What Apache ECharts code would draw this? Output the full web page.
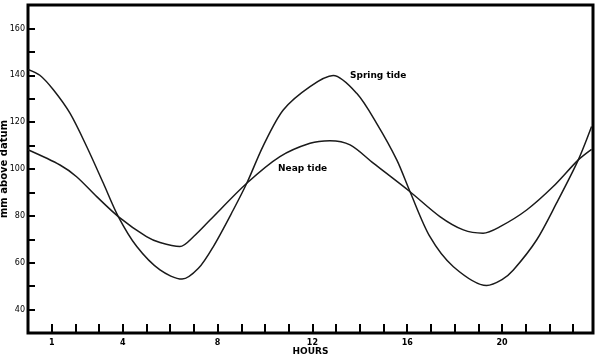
<!DOCTYPE html>
<html>
<head>
<meta charset="utf-8">
<script src="https://cdn.jsdelivr.net/npm/echarts@6/dist/echarts.min.js"></script>
<style>
html,body{margin:0;padding:0;background:#fff;}
#chart{width:600px;height:360px;}
</style>
</head>
<body>
<div id="chart"></div>
<script>
var springHours  = [0, 0.5, 1.07, 1.77, 2.48, 3.18, 3.81, 4.59, 5.57, 6.5, 7.19, 7.82, 8.66, 9.23, 9.93, 10.77, 11.9, 12.88, 13.87, 14.71, 15.56, 16.12, 16.96, 17.95, 19.35, 20.0, 20.48, 21.46, 22.3, 23.22, 23.78];
var springLevels = [142.5, 140, 133.8, 123.8, 109.5, 93.9, 79.7, 66.9, 56.9, 53, 57.6, 66.9, 82.5, 93.9, 110, 125.2, 135.2, 139.9, 132.3, 119.5, 103.9, 90.3, 71.1, 58.3, 50.3, 52.8, 56.9, 69.7, 85.4, 103.9, 118.1];
var neapHours  = [0, 1.35, 2.05, 2.9, 3.81, 5.0, 5.57, 6.41, 7.0, 7.68, 9.23, 10.63, 11.9, 12.74, 13.59, 14.57, 16.12, 17.38, 18.37, 19.2, 19.92, 21.04, 22.16, 23.22, 23.78];
var neapLevels = [108.2, 101.7, 96.7, 88.2, 79.7, 71.1, 68.6, 66.9, 71.3, 78.2, 93.9, 105.3, 111, 112.1, 110.3, 102.5, 90.3, 79.7, 74, 72.6, 75.4, 82.5, 92.5, 103.9, 108.4];
var xTickLabels = [1, 4, 8, 12, 16, 20];
var yTickLabels = [40, 60, 80, 100, 120, 140, 160];

function pairs(xs, ys){ return xs.map(function(x,i){ return [x, ys[i]]; }); }

var chart = echarts.init(document.getElementById('chart'), null, {renderer:'canvas'});
var ink = '#1a1a1a';
var font = 'DejaVu Sans';
chart.setOption({
  animation:false,
  backgroundColor:'#fff',
  grid:{left:28, right:7, top:5, bottom:27, containLabel:false, outerBoundsMode:'none',
        show:true, borderColor:'#000', borderWidth:3, backgroundColor:'transparent'},
  xAxis:{
    type:'value', min:0, max:23.84, interval:1,
    name:'HOURS', nameLocation:'middle', nameGap:14, nameMoveOverlap:false,
    nameTextStyle:{color:'#000', fontFamily:font, fontWeight:'bold', fontSize:9},
    axisLine:{show:false},
    axisTick:{show:true, inside:true, length:9, lineStyle:{color:'#000', width:2}},
    axisLabel:{margin:6, color:'#000', fontFamily:font, fontWeight:'bold', fontSize:8,
      showMinLabel:false, showMaxLabel:false,
      formatter:function(v){ return xTickLabels.indexOf(Math.round(v*100)/100) >= 0 ? String(v) : ''; }},
    splitLine:{show:false}
  },
  yAxis:{
    type:'value', min:30, max:170, interval:10,
    name:'mm above datum', nameLocation:'middle', nameGap:19, nameRotate:90, nameMoveOverlap:false,
    nameTextStyle:{color:'#000', fontFamily:font, fontWeight:'bold', fontSize:10},
    axisLine:{show:false},
    axisTick:{show:true, inside:true, length:7, lineStyle:{color:'#000', width:2}},
    axisLabel:{margin:3, color:'#000', fontFamily:font, fontSize:8,
      formatter:function(v){ return yTickLabels.indexOf(v) >= 0 ? String(v) : ''; }},
    splitLine:{show:false}
  },
  graphic:[
    {type:'text', left:350, top:71, style:{text:'Spring tide', fill:'#000', font:'bold 9px "DejaVu Sans"'}},
    {type:'text', left:278, top:164, style:{text:'Neap tide', fill:'#000', font:'bold 9px "DejaVu Sans"'}}
  ],
  series:[
    {name:'Spring tide', type:'line', data:pairs(springHours, springLevels), smooth:0.3, symbol:'none',
     lineStyle:{color:ink, width:1.5}},
    {name:'Neap tide', type:'line', data:pairs(neapHours, neapLevels), smooth:0.3, symbol:'none',
     lineStyle:{color:ink, width:1.5}}
  ]
});
</script>
</body>
</html>
